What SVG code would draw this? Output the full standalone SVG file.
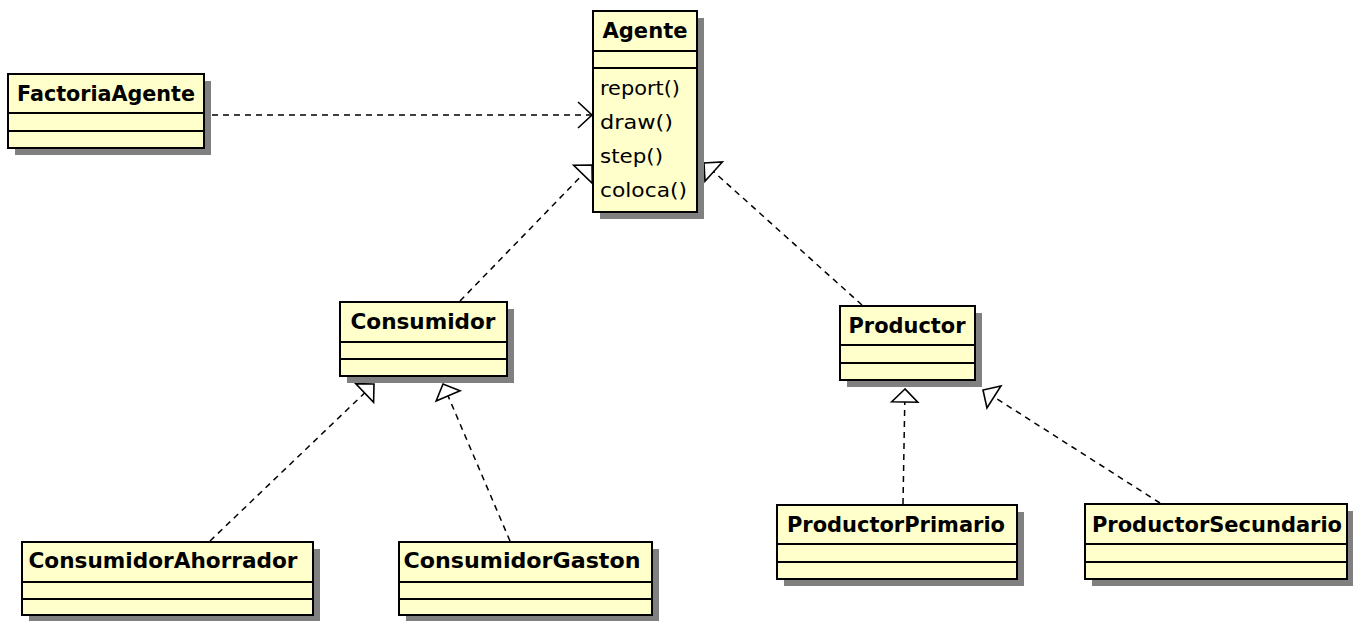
<svg xmlns="http://www.w3.org/2000/svg" width="1353" height="621" viewBox="0 0 1353 621">
  <style>
    .shadow { fill: #808080; stroke: none; }
    .box { fill: #ffffcc; stroke: #000; stroke-width: 2; }
    .sep { stroke: #000; stroke-width: 2; }
    .title { font-family: "DejaVu Sans", "Liberation Sans", sans-serif; font-weight: bold; font-size: 21px; fill: #000; text-anchor: middle; }
    .op { font-family: "DejaVu Sans", "Liberation Sans", sans-serif; font-size: 20px; fill: #000; }
    .dash { fill: none; stroke: #000; stroke-width: 1.5; stroke-dasharray: 6 5; }
  </style>
  <defs>
    <!-- hollow triangle for realization -->
    <marker id="realize" markerUnits="userSpaceOnUse" viewBox="-17 -17 20 34" refX="0" refY="0" markerWidth="20" markerHeight="34" orient="auto" overflow="visible">
      <path d="M0,0 L-13,-13 L-13,13 Z" fill="#fff" stroke="#000" stroke-width="1.6" stroke-dasharray="none"/>
    </marker>
    <!-- open arrow for dependency -->
    <marker id="depend" markerUnits="userSpaceOnUse" viewBox="-17 -17 20 34" refX="0" refY="0" markerWidth="20" markerHeight="34" orient="auto" overflow="visible">
      <path d="M-14,-13 L0,0 L-14,13" fill="none" stroke="#000" stroke-width="1.6" stroke-dasharray="none"/>
    </marker>
  </defs>

  <rect width="1353" height="621" fill="#fff"/>

  <!-- connectors -->
  <g id="connectors">
    <line class="dash" x1="212" y1="115" x2="592" y2="115" marker-end="url(#depend)"/>
    <line class="dash" x1="460" y1="301" x2="592" y2="165" marker-end="url(#realize)"/>
    <line class="dash" x1="862" y1="305" x2="704" y2="163" marker-end="url(#realize)"/>
    <line class="dash" x1="210" y1="541" x2="374" y2="384" marker-end="url(#realize)"/>
    <line class="dash" x1="510" y1="541" x2="443" y2="384" marker-end="url(#realize)"/>
    <line class="dash" x1="903" y1="504" x2="905" y2="389" marker-end="url(#realize)"/>
    <line class="dash" x1="1160" y1="503" x2="983" y2="390" marker-end="url(#realize)"/>
  </g>

  <!-- interface Agente -->
  <g id="agente">
    <rect class="shadow" x="600" y="18" width="104" height="201"/>
    <rect class="box" x="593" y="11" width="104" height="201"/>
    <line class="sep" x1="593" y1="51" x2="697" y2="51"/>
    <line class="sep" x1="593" y1="68" x2="697" y2="68"/>
    <text class="title" x="645" y="38" textLength="85" lengthAdjust="spacingAndGlyphs">Agente</text>
    <text class="op" x="600" y="95" textLength="80" lengthAdjust="spacingAndGlyphs">report()</text>
    <text class="op" x="600" y="129" textLength="73" lengthAdjust="spacingAndGlyphs">draw()</text>
    <text class="op" x="600" y="163" textLength="63" lengthAdjust="spacingAndGlyphs">step()</text>
    <text class="op" x="600" y="197" textLength="87" lengthAdjust="spacingAndGlyphs">coloca()</text>
  </g>

  <g id="factoria-agente">
    <rect class="shadow" x="15" y="81" width="196" height="74"/>
    <rect class="box" x="8" y="74" width="196" height="74"/>
    <line class="sep" x1="8" y1="113" x2="204" y2="113"/>
    <line class="sep" x1="8" y1="131" x2="204" y2="131"/>
    <text class="title" x="106" y="101" textLength="178" lengthAdjust="spacingAndGlyphs">FactoriaAgente</text>
  </g>

  <g id="consumidor">
    <rect class="shadow" x="347" y="309" width="167" height="74"/>
    <rect class="box" x="340" y="302" width="167" height="74"/>
    <line class="sep" x1="340" y1="342" x2="507" y2="342"/>
    <line class="sep" x1="340" y1="359" x2="507" y2="359"/>
    <text class="title" x="423" y="329" textLength="145" lengthAdjust="spacingAndGlyphs">Consumidor</text>
  </g>

  <g id="productor">
    <rect class="shadow" x="847" y="313" width="135" height="74"/>
    <rect class="box" x="840" y="306" width="135" height="74"/>
    <line class="sep" x1="840" y1="345" x2="975" y2="345"/>
    <line class="sep" x1="840" y1="363" x2="975" y2="363"/>
    <text class="title" x="907" y="333" textLength="117" lengthAdjust="spacingAndGlyphs">Productor</text>
  </g>

  <g id="consumidor-ahorrador">
    <rect class="shadow" x="29" y="549" width="291" height="73"/>
    <rect class="box" x="22" y="542" width="291" height="73"/>
    <line class="sep" x1="22" y1="582" x2="313" y2="582"/>
    <line class="sep" x1="22" y1="599" x2="313" y2="599"/>
    <text class="title" x="163" y="568" textLength="269" lengthAdjust="spacingAndGlyphs">ConsumidorAhorrador</text>
  </g>

  <g id="consumidor-gaston">
    <rect class="shadow" x="406" y="549" width="253" height="73"/>
    <rect class="box" x="399" y="542" width="253" height="73"/>
    <line class="sep" x1="399" y1="582" x2="652" y2="582"/>
    <line class="sep" x1="399" y1="599" x2="652" y2="599"/>
    <text class="title" x="522" y="568" textLength="237" lengthAdjust="spacingAndGlyphs">ConsumidorGaston</text>
  </g>

  <g id="productor-primario">
    <rect class="shadow" x="784" y="512" width="240" height="74"/>
    <rect class="box" x="777" y="505" width="240" height="74"/>
    <line class="sep" x1="777" y1="544" x2="1017" y2="544"/>
    <line class="sep" x1="777" y1="562" x2="1017" y2="562"/>
    <text class="title" x="896" y="532" textLength="218" lengthAdjust="spacingAndGlyphs">ProductorPrimario</text>
  </g>

  <g id="productor-secundario">
    <rect class="shadow" x="1092" y="511" width="262" height="75"/>
    <rect class="box" x="1085" y="504" width="262" height="75"/>
    <line class="sep" x1="1085" y1="544" x2="1347" y2="544"/>
    <line class="sep" x1="1085" y1="562" x2="1347" y2="562"/>
    <text class="title" x="1217" y="532" textLength="250" lengthAdjust="spacingAndGlyphs">ProductorSecundario</text>
  </g>
</svg>
